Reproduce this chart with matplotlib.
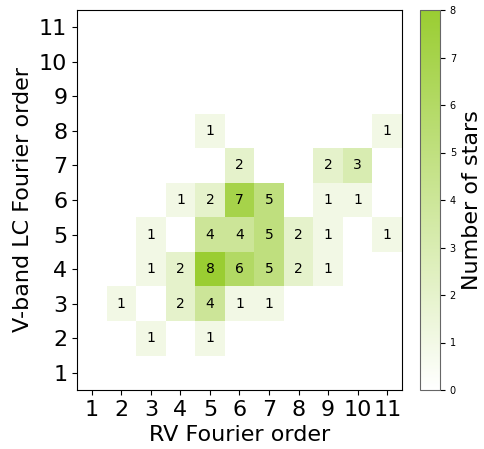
import numpy as np
import matplotlib
matplotlib.use("Agg")
import matplotlib.pyplot as plt
from matplotlib.colors import LinearSegmentedColormap

# Fourier orders (x: RV, y: V-band LC)
orders = list(range(1, 12))
# (rv order, lc order, number of stars)
rv_order = [5, 11, 6, 9, 10, 4, 5, 6, 7, 9, 10, 3, 5, 6, 7, 8, 9, 11,
            3, 4, 5, 6, 7, 8, 9, 2, 4, 5, 6, 7, 3, 5]
lc_order = [8, 8, 7, 7, 7, 6, 6, 6, 6, 6, 6, 5, 5, 5, 5, 5, 5, 5,
            4, 4, 4, 4, 4, 4, 4, 3, 3, 3, 3, 3, 2, 2]
n_stars = [1, 1, 2, 2, 3, 1, 2, 7, 5, 1, 1, 1, 4, 4, 5, 2, 1, 1,
           1, 2, 8, 6, 5, 2, 1, 1, 2, 4, 1, 1, 1, 1]

grid = np.zeros((len(orders), len(orders)))
for x, y, n in zip(rv_order, lc_order, n_stars):
    grid[y - 1, x - 1] = n

cmap = LinearSegmentedColormap.from_list("wg", ["#ffffff", "#9acd32"])

fig = plt.figure(figsize=(4.85, 4.49), dpi=100)
ax = fig.add_axes([77/485, 59/449, 325/485, 380/449])
cax = fig.add_axes([420/485, 59/449, 20/485, 380/449])

im = ax.imshow(grid, origin="lower", cmap=cmap, vmin=0, vmax=8,
               extent=[0.5, 11.5, 0.5, 11.5], aspect="auto")
for x, y, n in zip(rv_order, lc_order, n_stars):
    ax.text(x, y, str(n), ha="center", va="center", fontsize=10)

ax.set_xticks(orders)
ax.set_yticks(orders)
ax.tick_params(labelsize=16)
ax.set_xlabel("RV Fourier order", fontsize=16)
ax.set_ylabel("V-band LC Fourier order", fontsize=16)

cb = fig.colorbar(im, cax=cax)
cb.set_ticks(range(0, 9))
cb.ax.tick_params(labelsize=7)
cb.set_label("Number of stars", fontsize=16)
cb.outline.set_edgecolor("0.4")

fig.savefig("out.png", dpi=100)
